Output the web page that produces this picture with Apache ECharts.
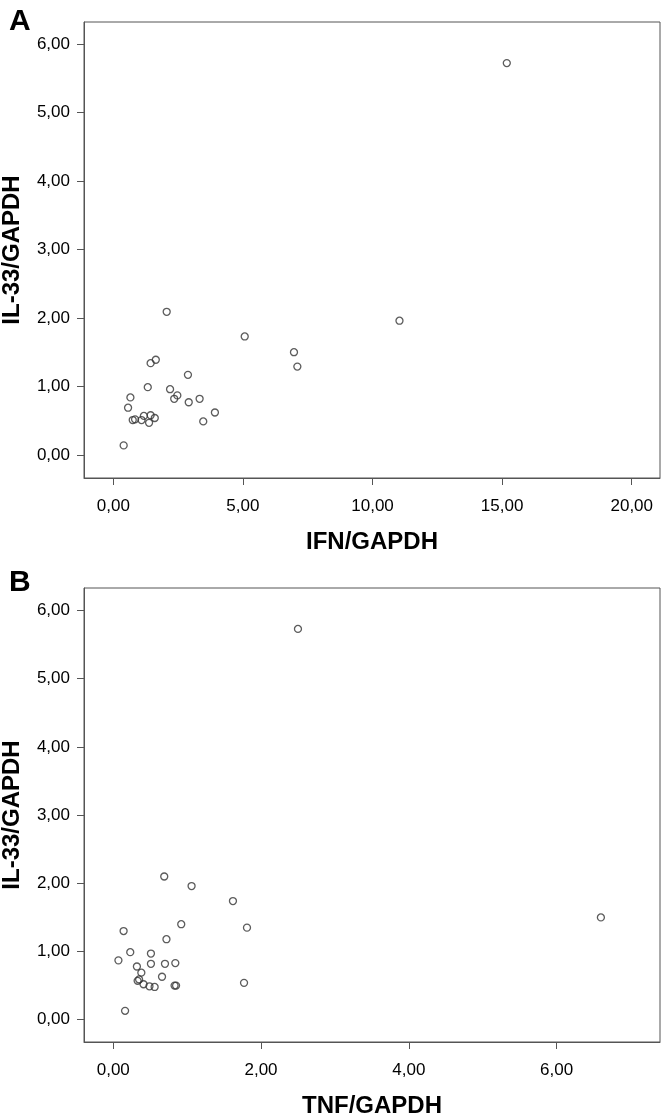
<!DOCTYPE html>
<html>
<head>
<meta charset="utf-8">
<script src="https://cdn.jsdelivr.net/npm/echarts@6/dist/echarts.min.js"></script>
<style>
html,body{margin:0;padding:0;background:#fff;}
#chart{width:664px;height:1119px;}
</style>
</head>
<body>
<div id="chart"></div>
<script>
// Panel A: IFN/GAPDH vs IL-33/GAPDH
var ifnA  = [2.06,5.07,6.97,7.10,1.44,1.64,2.88,1.33,2.19,2.47,2.35,2.91,3.33,3.92,3.47,0.66,0.57,0.75,0.84,1.09,1.18,1.44,1.60,1.38,0.40,15.18,11.04];
var il33A = [2.09,1.73,1.50,1.29,1.34,1.39,1.17,0.99,0.96,0.87,0.82,0.77,0.82,0.62,0.49,0.84,0.69,0.51,0.52,0.51,0.57,0.58,0.54,0.47,0.14,5.72,1.96];
// Panel B: TNF/GAPDH vs IL-33/GAPDH
var tnfB  = [0.69,1.06,1.62,1.81,0.92,0.72,0.14,0.23,0.07,0.51,0.51,0.70,0.84,0.32,0.38,0.66,0.33,0.35,0.41,0.49,0.56,0.83,0.85,1.77,0.16,2.50,6.60];
var il33B = [2.10,1.96,1.74,1.35,1.40,1.18,1.30,0.99,0.87,0.97,0.82,0.82,0.83,0.78,0.69,0.63,0.57,0.59,0.52,0.49,0.48,0.50,0.50,0.54,0.13,5.73,1.50];
// Tick labels
var ticksXA = [0,5,10,15,20];
var ticksXB = [0,2,4,6];
var ticksY  = [0,1,2,3,4,5,6];

function pairs(xs, ys){ return xs.map(function(x,i){ return [x, ys[i]]; }); }
function fmt(v){ return Number(v).toFixed(2).replace('.', ','); }

var FONT = "'Liberation Sans', Arial, sans-serif";
var axisCol = '#555';

function xAxis(gi, min, max, ticks, name){
  return {
    type:'value', gridIndex:gi, min:min, max:max,
    axisLine:{show:true, onZero:false, lineStyle:{color:axisCol, width:1}},
    axisTick:{show:true, length:7, lineStyle:{color:axisCol}, customValues:ticks},
    axisLabel:{customValues:ticks, formatter:fmt, margin:20, fontSize:17, color:'#000', fontFamily:FONT},
    splitLine:{show:false},
    name:name, nameLocation:'middle', nameGap:64,
    nameTextStyle:{fontSize:24, fontWeight:'bold', color:'#000', fontFamily:FONT, verticalAlign:'middle'}
  };
}
function yAxis(gi, min, max, ticks, name){
  return {
    type:'value', gridIndex:gi, min:min, max:max,
    axisLine:{show:true, onZero:false, lineStyle:{color:axisCol, width:1}},
    axisTick:{show:true, length:7, lineStyle:{color:axisCol}, customValues:ticks},
    axisLabel:{customValues:ticks, formatter:fmt, margin:14, fontSize:17, color:'#000', fontFamily:FONT},
    splitLine:{show:false},
    name:name, nameLocation:'middle', nameGap:72, nameRotate:90,
    nameTextStyle:{fontSize:24, fontWeight:'bold', color:'#000', fontFamily:FONT, verticalAlign:'middle'}
  };
}

var chart = echarts.init(document.getElementById('chart'), null, {renderer:'canvas'});
chart.setOption({
  backgroundColor:'#fff',
  animation:false,
  title:[
    {text:'A', left:4, top:2, textStyle:{fontSize:30, fontWeight:'bold', color:'#000', fontFamily:FONT}},
    {text:'B', left:4, top:563, textStyle:{fontSize:30, fontWeight:'bold', color:'#000', fontFamily:FONT}}
  ],
  grid:[
    {left:84, top:22, width:576, height:456, show:true, borderColor:axisCol, borderWidth:1, backgroundColor:'transparent', containLabel:false, outerBoundsMode:'none'},
    {left:84, top:588, width:576, height:454, show:true, borderColor:axisCol, borderWidth:1, backgroundColor:'transparent', containLabel:false, outerBoundsMode:'none'}
  ],
  xAxis:[
    xAxis(0, -1.13, 21.09, ticksXA, 'IFN/GAPDH'),
    xAxis(1, -0.396, 7.40, ticksXB, 'TNF/GAPDH')
  ],
  yAxis:[
    yAxis(0, -0.336, 6.32, ticksY, 'IL-33/GAPDH'),
    yAxis(1, -0.327, 6.33, ticksY, 'IL-33/GAPDH')
  ],
  series:[
    {type:'scatter', xAxisIndex:0, yAxisIndex:0, data:pairs(ifnA, il33A), symbol:'circle', symbolSize:7,
     itemStyle:{color:'rgba(255,255,255,0)', borderColor:'#333', borderWidth:1.3}},
    {type:'scatter', xAxisIndex:1, yAxisIndex:1, data:pairs(tnfB, il33B), symbol:'circle', symbolSize:7,
     itemStyle:{color:'rgba(255,255,255,0)', borderColor:'#333', borderWidth:1.3}}
  ]
});
</script>
</body>
</html>
